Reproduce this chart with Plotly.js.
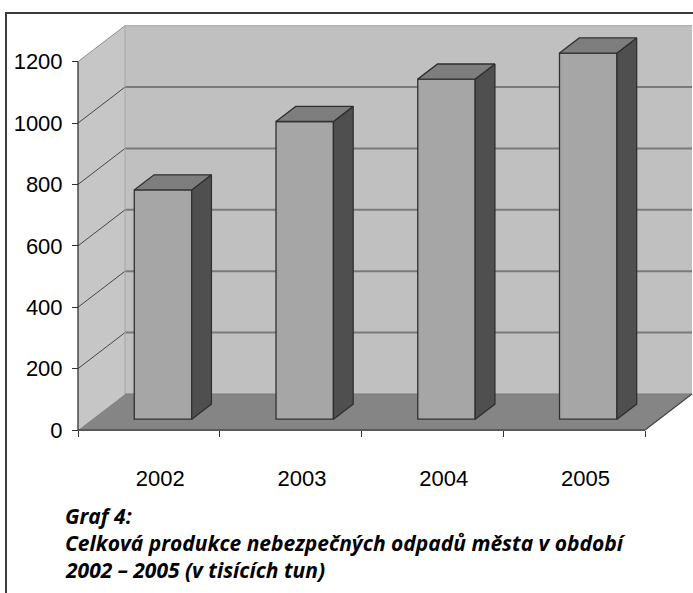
<!DOCTYPE html>
<html>
<head>
<meta charset="utf-8">
<script src="https://cdn.plot.ly/plotly-3.0.1.min.js"></script>
<style>
  html, body { margin: 0; padding: 0; background: #fff; }
  #wrap { position: relative; width: 693px; height: 593px; overflow: hidden; }
  #chart { position: absolute; left: 0; top: 0; width: 693px; height: 593px; }
  #frame { position: absolute; left: 5px; top: 12px; right: -10px; bottom: -10px;
           border-top: 2px solid #3c3c3c; border-left: 2px solid #3c3c3c; pointer-events: none; }
</style>
</head>
<body>
<div id="wrap"><div id="chart"></div><div id="frame"></div></div>
<script>
// Hazardous waste production, thousands of tonnes
const categories = ['2002', '2003', '2004', '2005'];
const values = [747, 970, 1108, 1193];
const yTickVals = [0, 200, 400, 600, 800, 1000, 1200];
const yTickText = ['0', '200', '400', '600', '800', '1000', '1200'];
const captionLines = [
  'Graf 4:',
  'Celková produkce nebezpečných odpadů města v období',
  '2002 – 2005 (v tisících tun)'
];

// ---- geometry of the oblique "3D" box (axis units) ----
const W = 693, H = 593;
const M = { l: 75, r: 0, t: 25, b: 160 };
const PX_X = 141.75;        // pixels per category
const PX_Y = 0.30692;       // pixels per value unit
const DX = 47 / PX_X;       // depth offset along x
const DY = 36 / PX_Y;       // depth offset along y
const F1 = 0.30, F2 = 0.72; // front / back depth of the bars
const BAR_W = 0.405;
const yMax = 1200;
const n = categories.length;

const plotW = W - M.l - M.r, plotH = H - M.t - M.b;
const xRange = [-3 / PX_X, -3 / PX_X + plotW / PX_X];
const yRange = [-3 / PX_Y, -3 / PX_Y + plotH / PX_Y];

const bdx = (F2 - F1) * DX, bdy = (F2 - F1) * DY;
const base = F1 * DY;
const x0s = values.map((v, i) => i + (1 - BAR_W) / 2 + F1 * DX);

// front faces
const front = {
  type: 'bar',
  x: x0s.map(x => x + BAR_W / 2),
  y: values,
  base: values.map(() => base),
  width: BAR_W,
  marker: { color: '#a6a6a6', line: { color: '#303030', width: 1.3 } },
  hoverinfo: 'skip'
};

// top and side faces
const topX = [], topY = [], sideX = [], sideY = [];
values.forEach((v, i) => {
  const x0 = x0s[i], x1 = x0 + BAR_W, t = base + v;
  topX.push(x0, x1, x1 + bdx, x0 + bdx, x0, null);
  topY.push(t, t, t + bdy, t + bdy, t, null);
  sideX.push(x1, x1 + bdx, x1 + bdx, x1, x1, null);
  sideY.push(base, base + bdy, t + bdy, t, base, null);
});
const face = (xs, ys, color) => ({
  type: 'scatter', mode: 'lines', x: xs, y: ys, fill: 'toself', fillcolor: color,
  line: { color: '#303030', width: 1.3 }, hoverinfo: 'skip', showlegend: false
});
const sides = face(sideX, sideY, '#4f4f4f');
const tops = face(topX, topY, '#7e7e7e');

// walls, floor and gridlines
const shapes = [];
const line = (x0, y0, x1, y1, color, width) => shapes.push({
  type: 'line', xref: 'x', yref: 'y', x0, y0, x1, y1, layer: 'below',
  line: { color, width }
});
const poly = (pts, color) => shapes.push({
  type: 'path', xref: 'x', yref: 'y', layer: 'below', fillcolor: color,
  line: { width: 0 },
  path: 'M ' + pts.map(p => p[0] + ',' + p[1]).join(' L ') + ' Z'
});
poly([[DX, DY], [n + DX, DY], [n + DX, yMax + DY], [DX, yMax + DY]], '#c0c0c0');
poly([[0, 0], [0, yMax], [DX, yMax + DY], [DX, DY]], '#c6c6c6');
poly([[0, 0], [n, 0], [n + DX, DY], [DX, DY]], '#858585');
yTickVals.forEach(v => {
  if (v > 0 && v < yMax) {
    line(DX, v + DY, n + DX, v + DY, '#7a7a7a', 2);
    line(0, v, DX, v + DY, '#474747', 1);
  }
});
line(DX, yMax + DY, n + DX, yMax + DY, '#a2a2a2', 1);
line(0, yMax, DX, yMax + DY, '#8e8e8e', 1);
line(DX, DY, DX, yMax + DY, '#a6a6a6', 1);
line(DX, DY, n + DX, DY, '#7a7a7a', 1);
line(n, 0, n + DX, DY, '#474747', 1.3);
line(0, 0, n, 0, '#5a5a5a', 2);
line(0, 0, 0, yMax, '#303030', 1.3);

const tickFont = { family: 'Liberation Sans, Arial, sans-serif', size: 22, color: '#000' };
const LABEL_SHIFT = 0.08;

// caption, one annotation per line
const captionY = [516, 543, 570];
const toPaperX = px => (px - M.l) / plotW;
const toPaperY = py => (H - M.b - py) / plotH;
const annotations = captionLines.map((t, k) => ({
  xref: 'paper', yref: 'paper',
  x: toPaperX(63), y: toPaperY(captionY[k]),
  xanchor: 'left', yanchor: 'middle', align: 'left', showarrow: false,
  text: t,
  font: { family: 'Open Sans, Noto Sans, sans-serif', size: 21, color: '#000',
          style: 'italic', weight: 700 }
}));

const layout = {
  width: W, height: H,
  margin: M,
  paper_bgcolor: 'rgba(0,0,0,0)',
  plot_bgcolor: 'rgba(0,0,0,0)',
  showlegend: false,
  bargap: 0,
  xaxis: {
    range: xRange, anchor: 'free', position: 3 / plotH,
    showgrid: false, zeroline: false, showline: false,
    tickmode: 'array',
    tickvals: categories.map((c, i) => i + 0.5 + LABEL_SHIFT),
    ticktext: categories,
    ticks: '', ticklabelstandoff: 33,
    tickfont: tickFont,
    minor: { tickmode: 'array', tickvals: categories.map((c, i) => i).concat([n]),
             ticks: 'outside', ticklen: 6, tickcolor: '#303030', tickwidth: 1, showgrid: false }
  },
  yaxis: {
    range: yRange, anchor: 'free', position: 3 / plotW,
    showgrid: false, zeroline: false, showline: false,
    tickmode: 'array', tickvals: yTickVals, ticktext: yTickText,
    ticks: 'outside', ticklen: 6, tickcolor: '#303030', tickwidth: 1,
    ticklabelstandoff: 5,
    tickfont: tickFont
  },
  shapes,
  annotations
};

Plotly.newPlot('chart', [front, sides, tops], layout, { staticPlot: true, displayModeBar: false });
</script>
</body>
</html>
